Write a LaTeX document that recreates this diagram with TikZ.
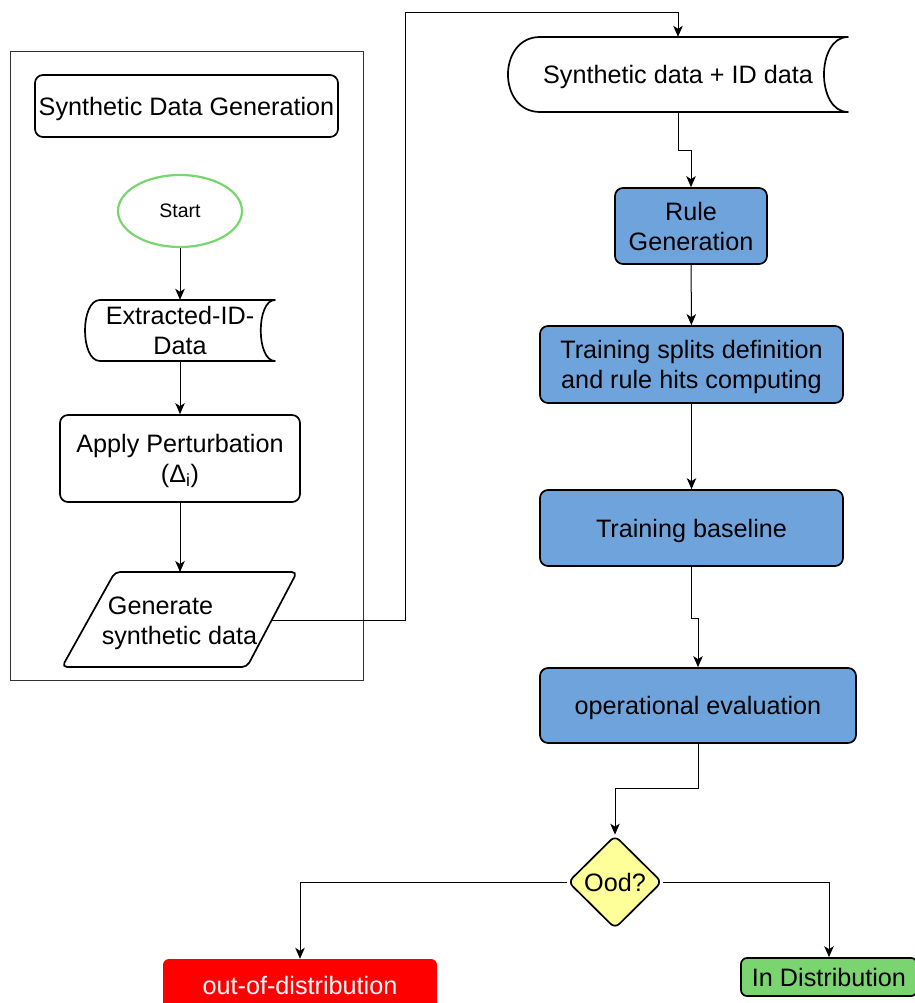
\documentclass[tikz,border=0pt]{standalone}
\usepackage{fontspec}
\setmainfont{Liberation Sans}
\usetikzlibrary{arrows.meta,shapes.geometric,calc}

\definecolor{stepblue}{RGB}{111,163,220}
\definecolor{decyellow}{RGB}{255,255,153}
\definecolor{okgreen}{RGB}{122,212,112}
\definecolor{startgreen}{RGB}{120,214,110}
\definecolor{framegray}{RGB}{50,50,50}

\tikzset{
  txt/.style={font=\fontsize{25.2}{30}\selectfont, align=center, text=black, text depth=0pt},
  border/.style={line width=1.7pt, draw=black},
  box/.style={txt, border, rounded corners=8pt, inner sep=0pt},
  bluebox/.style={box, fill=stepblue},
  hidden/.style={txt, inner sep=0pt, draw=none},
  link/.style={line width=1pt, draw=black, -{Stealth[length=11pt,width=9.5pt,inset=3pt]}},
}

\begin{document}
\begin{tikzpicture}[x=1pt,y=-1pt]
\useasboundingbox (0,0) rectangle (914,1003);

% left panel frame
\draw[framegray, line width=1pt] (10,52) rectangle (363,680);

% --- left column: synthetic data generation ---
\node[box, minimum width=303pt, minimum height=62pt] (title) at (186.5,106) {Synthetic Data Generation};

\node[ellipse, draw=startgreen, line width=2.2pt, minimum width=124pt, minimum height=72pt,
      inner sep=0pt, text depth=0pt, font=\fontsize{19.5}{23}\selectfont] (start) at (180,211) {Start};

% stored-data shape: Extracted-ID-Data
\node[hidden, minimum width=190pt, minimum height=61pt] (extr) at (180,330.5) {Extracted-ID-\\Data};
\draw[border, line join=round]
  (100,300) -- (275,300) .. controls (256,300) and (256,361) .. (275,361)
  -- (100,361) .. controls (80,361) and (80,300) .. cycle;

\node[box, minimum width=240pt, minimum height=87pt] (pert) at (180,458.5)
  {Apply Perturbation\\(Δ\textsubscript{i})};

% parallelogram: Generate synthetic data
\draw[border, rounded corners=5pt] (115,572) -- (297,572) -- (247,667) -- (62,667) -- cycle;
\node[hidden, minimum width=180pt, minimum height=95pt] (gen) at (179.5,621)
  {Generate\hspace*{38pt}\\synthetic data};
\coordinate (genT) at (180,572);
\coordinate (genR) at (272,620);

% --- right column: rule pipeline ---
\node[hidden, minimum width=340pt, minimum height=75pt] (sid) at (678,74.5) {Synthetic data + ID data};
\draw[border, line join=round]
  (540,37) -- (848,37) .. controls (816,37) and (816,112) .. (848,112)
  -- (540,112) .. controls (497.3,112) and (497.3,37) .. cycle;

\node[bluebox, minimum width=152pt, minimum height=76pt] (rule) at (691,226) {Rule\\Generation};
\node[bluebox, minimum width=303pt, minimum height=77pt] (split) at (691.5,364.5)
  {Training splits definition\\and rule hits computing};
\node[bluebox, minimum width=303pt, minimum height=76pt] (base) at (691.5,528) {Training baseline};
\node[bluebox, minimum width=316pt, minimum height=75pt] (oper) at (698,705.5) {operational evaluation};

\node[diamond, border, fill=decyellow, rounded corners=6pt, minimum width=94pt, minimum height=93pt,
      inner sep=0pt, txt] (ood) at (615,882) {Ood?};

\node[txt, fill=red, text=white, rounded corners=6pt, minimum width=274pt, minimum height=53pt,
      inner sep=0pt] (out) at (300,985.5) {out-of-distribution};
\node[box, fill=okgreen, rounded corners=6pt, minimum width=176pt, minimum height=38pt] (ind) at (829,977)
  {In Distribution};

% --- connectors ---
\draw[link] (start) -- (extr.north);
\draw[link] (extr.south) -- (pert);
\draw[link] (pert) -- (genT);
\draw[link] (genR) -| (405,13) -| (sid.north);
\draw[link] (sid.south) -- ++(0,38) -| (rule.north);
\draw[link] (rule) -- (split);
\draw[link] (split) -- (base);
\draw[link] (base.south) -- ++(0,52) -| (oper.north);
\draw[link] (oper.south) -- ++(0,45) -| (ood.north);
\draw[link] (ood.west) -| (out.north);
\draw[link] (ood.east) -| (ind.north);
\end{tikzpicture}
\end{document}
